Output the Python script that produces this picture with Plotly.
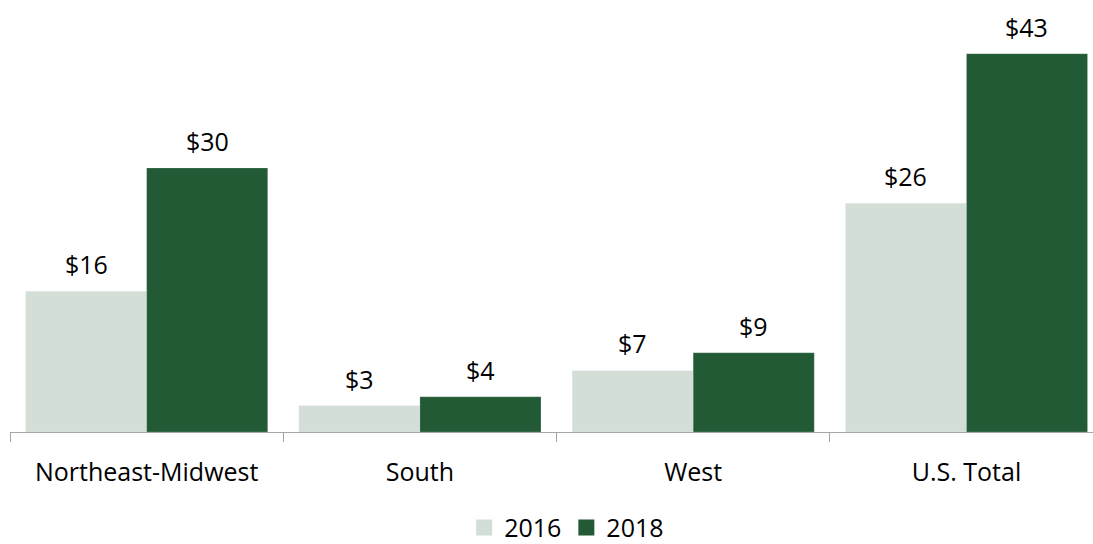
import plotly.graph_objects as go

regions = ["Northeast-Midwest", "South", "West", "U.S. Total"]
values_2016 = [16, 3, 7, 26]
values_2018 = [30, 4, 9, 43]
series_names = ["2016", "2018"]

color_2016 = "#D3DED7"
color_2018 = "#225A35"
font_family = "Open Sans, Noto Sans, sans-serif"
font_size = 25

fig = go.Figure()
for name, vals, col in [(series_names[0], values_2016, color_2016),
                        (series_names[1], values_2018, color_2018)]:
    fig.add_trace(go.Bar(
        name=name, x=regions, y=vals, legendgroup=name, showlegend=False,
        marker=dict(color=col, line=dict(color="rgba(255,255,255,0.35)", width=0.5)),
        hoverinfo="x+y",
    ))
    # square legend swatch for the series
    fig.add_trace(go.Scatter(
        name=name, x=[None], y=[None], mode="markers", legendgroup=name,
        marker=dict(symbol="square", size=16, color=col), hoverinfo="skip",
    ))

# value labels above each bar
bar_px = 121
for shift, vals in [(-bar_px / 2, values_2016), (bar_px / 2, values_2018)]:
    for r, v in zip(regions, vals):
        fig.add_annotation(
            x=r, y=v, text=f"${v}", showarrow=False,
            xanchor="center", yanchor="bottom", xshift=shift, yshift=8,
            font=dict(family=font_family, size=font_size, color="#000000"),
        )

fig.update_layout(
    width=1093, height=544,
    margin=dict(l=10, r=0, t=0, b=112, autoexpand=False),
    paper_bgcolor="white", plot_bgcolor="white",
    barmode="group", bargap=0.114, bargroupgap=0,
    font=dict(family=font_family, size=font_size, color="#000000"),
    showlegend=True,
    legend=dict(orientation="h", x=0.514, xanchor="center",
                yref="container", y=0.03, yanchor="middle",
                font=dict(size=font_size), itemwidth=30, tracegroupgap=0),
)
fig.update_xaxes(
    range=[-0.5, 3.463], showline=True, linecolor="#A6A6A6", linewidth=1,
    ticks="outside", tickson="boundaries", ticklen=9, tickcolor="#A6A6A6",
    showgrid=False, tickfont=dict(size=font_size), ticklabelstandoff=18,
    automargin=False,
)
fig.update_yaxes(range=[0, 49.1], visible=False, showgrid=False)

fig.write_html("out.html")
